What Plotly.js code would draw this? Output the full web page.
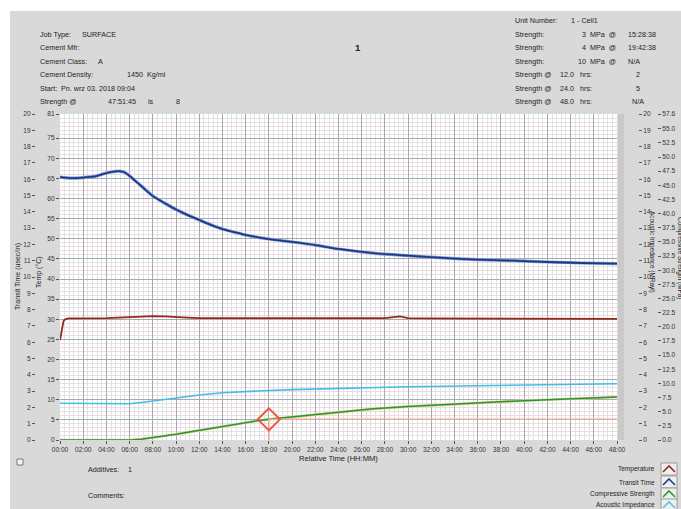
<!DOCTYPE html>
<html><head><meta charset="utf-8">
<script src="https://cdn.plot.ly/plotly-3.0.1.min.js"></script>
<style>
html,body{margin:0;padding:0;background:#ffffff;width:681px;height:509px;overflow:hidden}
#chart{position:absolute;left:10px;top:11px;width:671px;height:498px}
</style></head><body><div id="chart"></div>
<script>
// ---------- DATA ----------
const timeTickVals = [0,2,4,6,8,10,12,14,16,18,20,22,24,26,28,30,32,34,36,38,40,42,44,46,48];
const timeTickText = ['00:00','02:00','04:00','06:00','08:00','10:00','12:00','14:00','16:00','18:00','20:00','22:00','24:00','26:00','28:00','30:00','32:00','34:00','36:00','38:00','40:00','42:00','44:00','46:00','48:00'];

const tempTickVals = [0,5,10,15,20,25,30,35,40,45,50,55,60,65,70,75,81];
const transitTickVals = [0,1,2,3,4,5,6,7,8,9,10,11,12,13,14,15,16,17,18,19,20];
const acousticTickVals = [0,1,2,3,4,5,6,7,8,9,10,11,12,13,14,15,16,17,18,19,20];
const strengthTickVals = [0,2.5,5,7.5,10,12.5,15,17.5,20,22.5,25,27.5,30,32.5,35,37.5,40,42.5,45,47.5,50,52.5,55,57.6];
const strengthTickText = ['0.0','2.5','5.0','7.5','10.0','12.5','15.0','17.5','20.0','22.5','25.0','27.5','30.0','32.5','35.0','37.5','40.0','42.5','45.0','47.5','50.0','52.5','55.0','57.6'];

// Temperature (°C)
const tempHours  = [0,0.1,0.2,0.3,0.45,0.7,1,2,3,4,5,6,7,8,9,10,11,12,14,16,18,20,22,24,26,28,29.3,30,32,34,36,38,40,42,44,46,48];
const tempValues = [24.8,26.2,28.3,29.5,30.0,30.2,30.2,30.2,30.2,30.3,30.4,30.5,30.6,30.8,30.7,30.5,30.4,30.3,30.3,30.3,30.2,30.3,30.2,30.2,30.2,30.3,30.7,30.3,30.2,30.2,30.2,30.1,30.2,30.2,30.1,30.1,30.1];

// Transit time (usec/in)
const transitHours  = [0,1,2,3,4,5,5.5,6,7,8,9,10,11,12,13,14,15,16,18,20,22,24,27,30,33,36,39,42,45,48];
const transitValues = [16.13,16.07,16.1,16.17,16.38,16.5,16.44,16.2,15.58,14.97,14.54,14.14,13.8,13.5,13.2,12.94,12.76,12.58,12.33,12.15,11.96,11.72,11.47,11.31,11.17,11.07,11.0,10.92,10.86,10.82];

// Compressive strength (MPa)
const strengthHours  = [0,6,7,8,9,10,11,12,13,14,15,16,17,18,19,20,22,24,27,30,33,36,39,42,45,48];
const strengthValues = [0,0,0.15,0.4,0.7,1.0,1.35,1.7,2.05,2.4,2.8,3.1,3.4,3.65,3.85,4.05,4.5,4.95,5.5,5.9,6.25,6.55,6.85,7.1,7.35,7.6];

// Acoustic impedance (MRayl)
const acousticHours  = [0,2,4,5,6,7,8,9,10,11,12,14,16,18,20,22,24,27,30,33,36,39,42,45,48];
const acousticValues = [2.25,2.24,2.22,2.2,2.22,2.3,2.4,2.5,2.6,2.68,2.76,2.9,2.98,3.04,3.09,3.13,3.17,3.22,3.27,3.3,3.33,3.37,3.42,3.44,3.45];

// Cursor
const cursorHour = 18;
const cursorStrength = 3.65;
const cursorEnd = 48;

// Header texts
const leftLabels = ['Job Type:','Cement Mfr:','Cement Class:','Cement Density:','Start:','Strength @'];
const leftValues = ['SURFACE','','A','1450  Kg/ml','Pn. wrz 03. 2018 09:04','47:51:45'];
const chartNumber = '1';
const unitLabel = 'Unit Number:';
const unitValue = '1 - Cell1';
const strengthRowsMPa = ['3','4','10'];
const strengthRowsAt = ['15:28:38','19:42:38','N/A'];
const strengthHrs = ['12.0','24.0','48.0'];
const strengthHrsVal = ['2','5','N/A'];
const legendNames = ['Temperature','Transit Time','Compressive Strength','Acoustic Impedance'];
const legendColors = ['#9a2a22','#22408f','#2f9a3c','#5cc4ea'];

// ---------- LAYOUT HELPERS ----------
const W = 671, H = 498, OX = 10, OY = 11;
const px = X => (X - OX) / W;
const py = Y => (OY + H - Y) / H;
const FONT = 'Liberation Sans, Arial, sans-serif';
const TXT = '#222';
const ann = [];
function A(text, X, Y, o, size) {
  o = o || {};
  ann.push(Object.assign({
    text: text, xref: 'paper', yref: 'paper', x: px(X), y: py(Y),
    xanchor: 'left', yanchor: 'middle', showarrow: false, borderpad: 0,
    font: {family: FONT, size: size || 7.2, color: TXT}
  }, o));
}
const rowY = [34, 47.5, 61, 74.5, 88, 101.5];
leftLabels.forEach((t, i) => A(t, 39, rowY[i]));
A(leftValues[0], 81, rowY[0]);
A(leftValues[2], 97, rowY[2]);
A(leftValues[3], 126, rowY[3]);
A(leftValues[4], 60, rowY[4]);
A(leftValues[5], 107, rowY[5]);
A('is', 147, rowY[5]);
A('8', 175, rowY[5]);
A('<b>' + chartNumber + '</b>', 358, 47, {xanchor: 'center'}, 9.5);

A(unitLabel, 514, 20);
A(unitValue, 570, 20);
strengthRowsMPa.forEach((v, i) => {
  A('Strength:', 514, rowY[i]);
  A(v + '  MPa  @', 617, rowY[i], {xanchor: 'right'});
  A(strengthRowsAt[i], 627, rowY[i]);
});
strengthHrs.forEach((v, i) => {
  A('Strength @', 514, rowY[i + 3]);
  A(v, 559, rowY[i + 3]);
  A('hrs:', 579, rowY[i + 3]);
  A(strengthHrsVal[i], 638, rowY[i + 3], {xanchor: 'center'});
});

A('Relative Time (HH:MM)', 338, 458, {xanchor: 'center'}, 7.6);
A('Additives:', 87, 469);
A('1', 127, 469);
A('Comments:', 87, 495);

A('Transit Time (usec/in)', 18, 277, {xanchor: 'center', textangle: -90}, 7);
A('Temp (°C)', 39, 272, {xanchor: 'center', textangle: -90}, 7);
A('Acoustic Impedance (MRayl)', 652, 252, {xanchor: 'center', textangle: 90}, 6.4);
A('Compressive Strength (MPa)', 680, 258, {xanchor: 'center', textangle: 90}, 6.4);

const shapes = [];
// strip right of plot
shapes.push({type: 'rect', xref: 'paper', yref: 'paper', x0: px(618), x1: px(624), y0: py(440), y1: py(114), fillcolor: '#c9c9c9', line: {width: 0}, layer: 'below'});
// checkbox
shapes.push({type: 'rect', xref: 'paper', yref: 'paper', x0: px(17), x1: px(23), y0: py(465), y1: py(459), fillcolor: '#f4f4f4', line: {width: 1, color: '#777'}});
const legY = [469, 482, 494, 505];
legendNames.forEach((n, i) => {
  A(n, 656, legY[i], {xanchor: 'right'}, 6.5);
  shapes.push({type: 'rect', xref: 'paper', yref: 'paper', x0: px(661), x1: px(677), y0: py(legY[i] + 6), y1: py(legY[i] - 6), fillcolor: '#efefef', line: {width: 1, color: '#9a9a9a'}});
  const p = 'M' + px(663) + ',' + py(legY[i] + 3) + ' L' + px(669) + ',' + py(legY[i] - 3) + ' L' + px(675) + ',' + py(legY[i] + 3);
  shapes.push({type: 'path', xref: 'paper', yref: 'paper', path: p, line: {width: 1.6, color: legendColors[i]}});
});

const tickFont = {family: FONT, size: 6.6, color: '#333'};
const layout = {
  width: W, height: H,
  margin: {l: 0, r: 0, t: 0, b: 0},
  paper_bgcolor: '#d9d9d9', plot_bgcolor: '#ffffff',
  showlegend: false,
  xaxis: {
    domain: [px(60), px(617)], range: [0, 48], tickmode: 'array', tickvals: timeTickVals, ticktext: timeTickText,
    ticks: 'outside', ticklen: 3, tickcolor: '#555', tickfont: tickFont,
    showgrid: true, gridcolor: '#a6a9b0', gridwidth: 1, zeroline: false, showline: false,
    minor: {tickmode: 'linear', tick0: 0, dtick: 0.4, showgrid: true, gridcolor: '#d6e4ef', ticks: ''}
  },
  yaxis: {
    domain: [py(440), py(114)], range: [0, 81], tickmode: 'array', tickvals: tempTickVals,
    ticks: 'outside', ticklen: 3, tickcolor: '#555', tickfont: tickFont,
    showgrid: true, gridcolor: '#aaaaaa', zeroline: false, showline: false,
    minor: {tickmode: 'linear', tick0: 0, dtick: 1, showgrid: true, gridcolor: '#f0dcdc', ticks: ''}
  },
  yaxis2: {
    overlaying: 'y', anchor: 'free', position: px(35), side: 'left', range: [0, 20],
    tickmode: 'array', tickvals: transitTickVals, ticks: 'outside', ticklen: 3, tickcolor: '#555', tickfont: tickFont,
    showgrid: false, zeroline: false, showline: false
  },
  yaxis3: {
    overlaying: 'y', anchor: 'free', position: px(638), side: 'right', range: [0, 20],
    tickmode: 'array', tickvals: acousticTickVals, ticks: 'outside', ticklen: 3, tickcolor: '#555', tickfont: tickFont,
    showgrid: false, zeroline: false, showline: false
  },
  yaxis4: {
    overlaying: 'y', anchor: 'free', position: px(657), side: 'right', range: [0, 57.6],
    tickmode: 'array', tickvals: strengthTickVals, ticktext: strengthTickText, ticks: 'outside', ticklen: 3, tickcolor: '#555', tickfont: tickFont,
    showgrid: false, zeroline: false, showline: false
  },
  annotations: ann,
  shapes: shapes
};

const traces = [
  {x: tempHours, y: tempValues, yaxis: 'y', mode: 'lines', line: {color: '#96281e', width: 1.8}, hoverinfo: 'skip'},
  {x: acousticHours, y: acousticValues, yaxis: 'y3', mode: 'lines', line: {color: '#45bce8', width: 1.6}, hoverinfo: 'skip'},
  {x: strengthHours, y: strengthValues, yaxis: 'y4', mode: 'lines', line: {color: '#d6dc8a', width: 2.6}, hoverinfo: 'skip'},
  {x: strengthHours, y: strengthValues, yaxis: 'y4', mode: 'lines', line: {color: '#2f8f3a', width: 1.5}, hoverinfo: 'skip'},
  {x: [cursorHour, cursorEnd], y: [cursorStrength, cursorStrength], yaxis: 'y4', mode: 'lines', line: {color: '#f0a898', width: 1.5}, hoverinfo: 'skip'},
  {x: [cursorHour, cursorHour], y: [0, cursorStrength], yaxis: 'y4', mode: 'lines', line: {color: '#f0a898', width: 1.5}, hoverinfo: 'skip'},
  {x: [cursorHour], y: [cursorStrength], yaxis: 'y4', mode: 'markers', marker: {symbol: 'diamond-open', size: 17, color: '#e8583c', line: {width: 2, color: '#e8583c'}}, hoverinfo: 'skip'},
  {x: transitHours, y: transitValues, yaxis: 'y2', mode: 'lines', line: {color: '#7d9ad8', width: 3.2, shape: 'spline', smoothing: 0.6}, hoverinfo: 'skip'},
  {x: transitHours, y: transitValues, yaxis: 'y2', mode: 'lines', line: {color: '#1f3a82', width: 1.8, shape: 'spline', smoothing: 0.6}, hoverinfo: 'skip'}
];

Plotly.newPlot('chart', traces, layout, {staticPlot: true, displayModeBar: false});
</script></body></html>
